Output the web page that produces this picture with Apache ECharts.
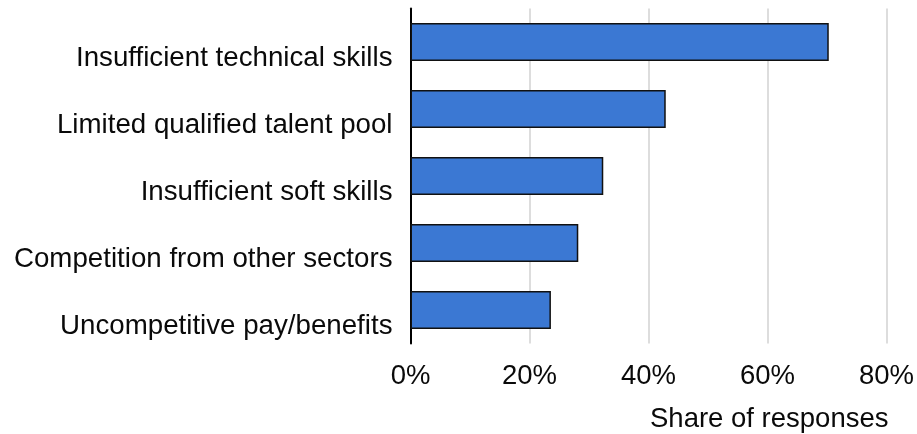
<!DOCTYPE html>
<html>
<head>
<meta charset="utf-8">
<script src="https://cdn.jsdelivr.net/npm/echarts@6/dist/echarts.min.js"></script>
<style>
  html, body { margin: 0; padding: 0; background: #ffffff; }
  #chart { width: 917px; height: 434px; }
</style>
</head>
<body>
<div id="chart"></div>
<script>
// Reasons given for hiring difficulty, listed top to bottom
const categories = [
  'Insufficient technical skills',
  'Limited qualified talent pool',
  'Insufficient soft skills',
  'Competition from other sectors',
  'Uncompetitive pay/benefits'
];
// Share of responses (%)
const shares = [70.3, 42.9, 32.4, 28.2, 23.6];
// X axis range and step (%)
const axisMin = 0;
const axisMax = 80;
const axisStep = 20;
const axisTitle = 'Share of responses';

const FONT = 'Liberation Sans, Arial, Helvetica, sans-serif';
const chart = echarts.init(document.getElementById('chart'), null, { renderer: 'canvas' });

chart.setOption({
  animation: false,
  backgroundColor: '#ffffff',
  grid: { left: 410.5, right: 30.5, top: 8.5, bottom: 90.5, containLabel: false },
  xAxis: {
    type: 'value',
    min: axisMin,
    max: axisMax,
    interval: axisStep,
    axisLine: { show: false },
    axisTick: { show: false },
    splitLine: { show: true, lineStyle: { color: '#dddddd', width: 2 } },
    axisLabel: {
      formatter: v => v + '%',
      fontFamily: FONT,
      fontSize: 27.5,
      color: '#0a0a0a',
      margin: 19
    },
    name: axisTitle,
    nameLocation: 'end',
    nameGap: 2,
    nameTextStyle: {
      fontFamily: FONT,
      fontSize: 27.5,
      color: '#0a0a0a',
      align: 'right',
      verticalAlign: 'top',
      padding: [62, 0, 0, 0]
    }
  },
  yAxis: {
    type: 'category',
    data: categories,
    inverse: true,
    axisLine: { show: true, lineStyle: { color: '#000000', width: 2 } },
    axisTick: { show: false },
    splitLine: { show: false },
    axisLabel: {
      fontFamily: FONT,
      fontSize: 27.7,
      color: '#0a0a0a',
      margin: 18,
      verticalAlign: 'top',
      padding: [2, 0, 0, 0]
    }
  },
  series: [{
    type: 'bar',
    data: shares,
    barWidth: 38,
    itemStyle: {
      color: '#3b78d3',
      borderColor: '#111111',
      borderWidth: 1.5
    }
  }]
});
</script>
</body>
</html>
